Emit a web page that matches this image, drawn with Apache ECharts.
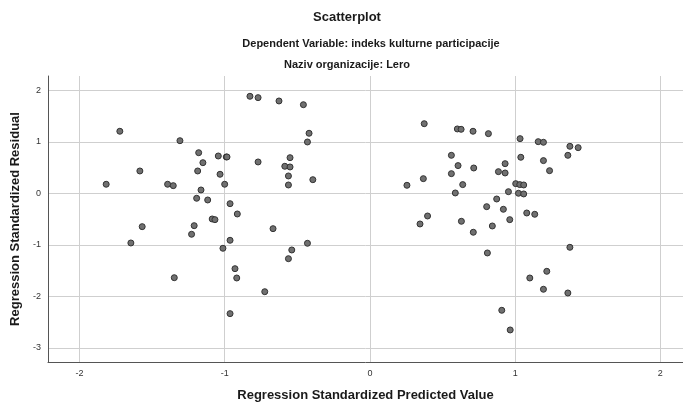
<!DOCTYPE html>
<html><head><meta charset="utf-8">
<script src="https://cdn.jsdelivr.net/npm/echarts@6/dist/echarts.min.js"></script>
<style>html,body{margin:0;padding:0;background:#fff}#c{width:683px;height:402px}</style>
</head><body><div id="c"></div>
<script>
var titleMain = "Scatterplot";
var titleSub = "Dependent Variable: indeks kulturne participacije";
var titlePanel = "Naziv organizacije: Lero";
var xAxisName = "Regression Standardized Predicted Value";
var yAxisName = "Regression Standardized Residual";

var predicted = [
 -1.722,-1.816,-1.584,-1.568,-1.646,-1.393,-1.354,-1.308,-1.347,-1.179,
 -1.150,-1.186,-1.163,-1.193,-1.117,-1.210,-1.228,-1.086,-1.067,-1.044,
 -1.032,-0.989,-0.984,-1.000,-0.963,-0.913,-0.963,-1.012,-0.929,-0.917,
 -0.963,-0.826,-0.770,-0.626,-0.458,-0.419,-0.430,-0.770,-0.550,-0.586,
 -0.550,-0.561,-0.393,-0.561,-0.667,-0.430,-0.538,-0.561,-0.724,
 0.374,0.255,0.368,0.397,0.345,0.602,0.628,0.710,0.816,1.034,
 1.159,1.195,1.377,1.434,1.363,0.561,1.039,1.195,0.607,0.715,
 0.931,0.885,0.931,1.237,0.561,0.639,0.588,1.004,1.032,1.059,
 0.954,1.023,1.059,0.873,0.804,0.919,1.080,1.135,0.963,0.630,
 0.843,0.712,1.377,0.809,1.218,1.101,1.195,1.363,0.908,0.966
];
var residual = [
 1.204,0.175,0.433,-0.648,-0.965,0.175,0.148,1.021,-1.639,0.788,
 0.594,0.433,0.064,-0.097,-0.130,-0.629,-0.796,-0.499,-0.512,0.724,
 0.369,0.705,0.705,0.175,-0.202,-0.402,-0.913,-1.068,-1.464,-1.645,
 -2.337,1.883,1.857,1.792,1.720,1.165,0.996,0.608,0.691,0.524,
 0.511,0.336,0.264,0.161,-0.687,-0.971,-1.101,-1.270,-1.911,
 1.351,0.155,0.284,-0.441,-0.596,1.249,1.242,1.204,1.158,1.061,
 1.002,0.990,0.912,0.886,0.737,0.737,0.699,0.634,0.537,0.491,
 0.575,0.420,0.394,0.439,0.381,0.168,0.006,0.187,0.168,0.161,
 0.031,0.000,-0.013,-0.111,-0.260,-0.311,-0.383,-0.408,-0.512,-0.544,
 -0.635,-0.757,-1.049,-1.159,-1.515,-1.645,-1.864,-1.936,-2.272,-2.654
];

var pts = predicted.map(function(v,i){return [v, residual[i]];});
var chart = echarts.init(document.getElementById('c'), null, {renderer:'canvas'});
var ff = '"Liberation Sans", Arial, sans-serif';
chart.setOption({
  animation:false,
  backgroundColor:'#fff',
  title:[
    {text:titleMain, left:347, top:11, padding:0, textAlign:'center', textStyle:{fontFamily:ff,fontSize:13,fontWeight:'bold',color:'#1a1a1a'}},
    {text:titleSub, left:371, top:38, padding:0, textAlign:'center', textStyle:{fontFamily:ff,fontSize:11,fontWeight:'bold',color:'#1a1a1a'}},
    {text:titlePanel, left:347, top:59, padding:0, textAlign:'center', textStyle:{fontFamily:'"Liberation Sans Narrow", "Liberation Sans", sans-serif',fontSize:11,fontWeight:'bold',color:'#1a1a1a'}}
  ],
  grid:{left:48, right:0, top:76, height:286, containLabel:false, outerBoundsMode:'none'},
  xAxis:{
    type:'value', min:-2.2166, max:2.1559, minInterval:1, maxInterval:1,
    name:xAxisName, nameLocation:'middle', nameGap:27,
    nameTextStyle:{fontFamily:ff,fontSize:13,fontWeight:'bold',color:'#1a1a1a'},
    axisLine:{show:true,onZero:false,lineStyle:{color:'#555',width:1}},
    axisTick:{show:false},
    axisLabel:{showMinLabel:false,showMaxLabel:false,fontFamily:ff,fontSize:9,color:'#333',margin:7},
    splitLine:{show:true,showMinLine:false,showMaxLine:false,lineStyle:{color:'#cfcfcf',width:1}}
  },
  yAxis:{
    type:'value', min:-3.276, max:2.277, minInterval:1, maxInterval:1,
    name:yAxisName, nameLocation:'middle', nameGap:25, nameRotate:90,
    nameTextStyle:{fontFamily:ff,fontSize:13,fontWeight:'bold',color:'#1a1a1a'},
    axisLine:{show:true,onZero:false,lineStyle:{color:'#555',width:1}},
    axisTick:{show:false},
    axisLabel:{showMinLabel:false,showMaxLabel:false,fontFamily:ff,fontSize:9,color:'#333',margin:7},
    splitLine:{show:true,showMinLine:false,showMaxLine:false,lineStyle:{color:'#cfcfcf',width:1}}
  },
  series:[{
    type:'scatter', data:pts, symbol:'circle', symbolSize:6,
    itemStyle:{color:'#707070',borderColor:'#333',borderWidth:1,opacity:1}
  }]
});
</script></body></html>
